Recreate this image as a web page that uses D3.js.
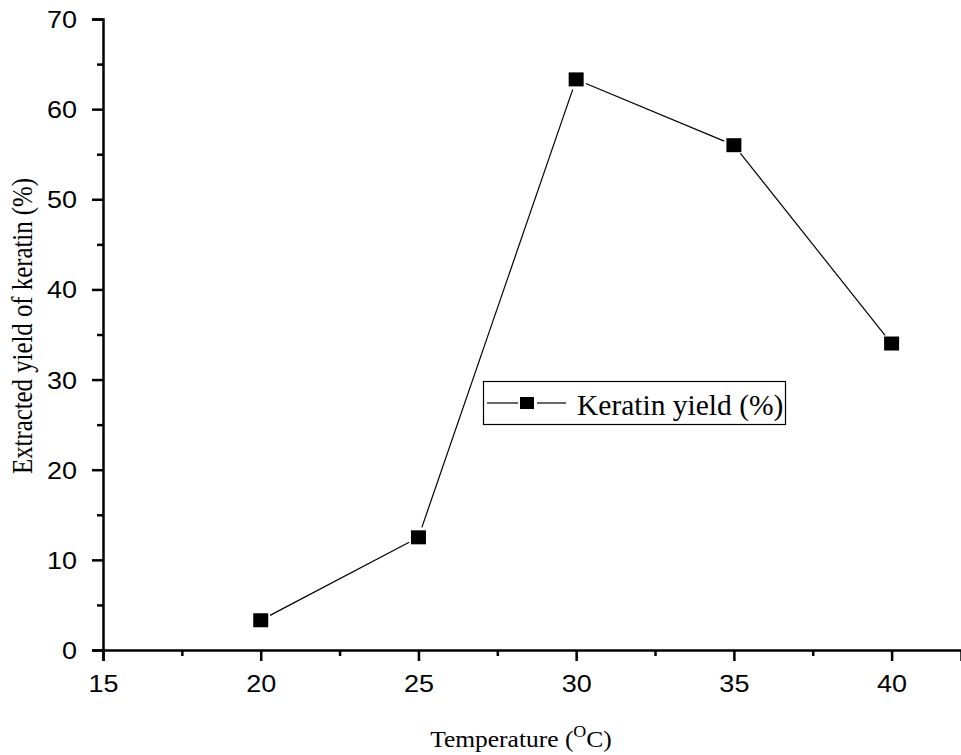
<!DOCTYPE html>
<html><head><meta charset="utf-8">
<script src="https://cdn.jsdelivr.net/npm/d3@7"></script>
<style>body{margin:0;background:#fff}svg{display:block}</style>
</head><body>
<svg id="c" width="961" height="755"></svg>
<script>
const temperatures = [20, 25, 30, 35, 40];
const keratinYield = [3.3, 12.5, 63.3, 56.0, 34.0];
const xTicks = [15, 20, 25, 30, 35, 40];
const yTicks = [0, 10, 20, 30, 40, 50, 60, 70];
const seriesName = "Keratin yield (%)";

const svg = d3.select("#c");
const x = d3.scaleLinear().domain([15, 42.2]).range([103, 961]);
const y = d3.scaleLinear().domain([0, 70]).range([650, 19]);

const xMinor = d3.range(17.5, 42, 5);
const yMinor = d3.range(5, 70, 10);
const sans = "Liberation Sans, Arial, sans-serif";
const serif = "Liberation Serif, Times New Roman, serif";

const gx = svg.append("g").attr("transform", "translate(0,650)");
gx.call(d3.axisBottom(x).tickValues(xTicks).tickSize(11).tickFormat(d3.format("d")));
const gxm = gx.append("g").call(d3.axisBottom(x).tickValues(xMinor).tickSize(6).tickFormat(""));
gxm.select(".domain").remove();
gx.selectAll(":scope > .tick text")
  .attr("y", 0).attr("dy", null)
  .attr("transform", "translate(0,42) scale(1,0.9)");

const gy = svg.append("g").attr("transform", "translate(103,0)");
gy.call(d3.axisLeft(y).tickValues(yTicks).tickSize(11).tickFormat(d3.format("d")));
const gym = gy.append("g").call(d3.axisLeft(y).tickValues(yMinor).tickSize(6).tickFormat(""));
gym.select(".domain").remove();
gy.selectAll(":scope > .tick text")
  .attr("x", 0).attr("dy", null).attr("y", 0)
  .attr("transform", "translate(-26,8.5) scale(1,0.9)");

svg.selectAll(".domain").attr("stroke", "#000").attr("stroke-width", 2.5);
svg.selectAll(".tick line").attr("stroke", "#000").attr("stroke-width", 2.5);
svg.selectAll(".tick text").attr("font-family", sans).attr("font-size", 27).attr("fill", "#000");

// line segments with gaps near markers
const pts = temperatures.map((t, i) => [x(t), y(keratinYield[i])]);
const gap = 10.5;
for (let i = 0; i < pts.length - 1; i++) {
  const [x1, y1] = pts[i], [x2, y2] = pts[i + 1];
  const dx = x2 - x1, dy = y2 - y1, L = Math.hypot(dx, dy);
  const ux = dx / L, uy = dy / L;
  svg.append("line")
    .attr("x1", x1 + ux * gap).attr("y1", y1 + uy * gap)
    .attr("x2", x2 - ux * gap).attr("y2", y2 - uy * gap)
    .attr("stroke", "#000").attr("stroke-width", 1.2);
}
const mw = 15, mh = 14;
svg.selectAll("rect.pt").data(pts).enter().append("rect")
  .attr("class", "pt")
  .attr("x", d => d[0] - mw / 2).attr("y", d => d[1] - mh / 2)
  .attr("width", mw).attr("height", mh).attr("fill", "#000");

// legend
const lg = svg.append("g");
lg.append("rect").attr("x", 483.5).attr("y", 381.5).attr("width", 302).attr("height", 43)
  .attr("fill", "#fff").attr("stroke", "#000").attr("stroke-width", 1.2);
lg.append("line").attr("x1", 487).attr("x2", 518).attr("y1", 403).attr("y2", 403).attr("stroke", "#000").attr("stroke-width", 1.2);
lg.append("line").attr("x1", 537).attr("x2", 566).attr("y1", 403).attr("y2", 403).attr("stroke", "#000").attr("stroke-width", 1.2);
lg.append("rect").attr("x", 520).attr("y", 397).attr("width", 14).attr("height", 12).attr("fill", "#000");
lg.append("text").attr("x", 577).attr("y", 415).attr("font-family", serif)
  .attr("font-size", 29.5).attr("fill", "#000").text(seriesName);

// axis titles
const xt = svg.append("text").attr("transform", "translate(521,747) scale(1,0.88)").attr("text-anchor", "middle")
  .attr("font-family", serif).attr("font-size", 25.5).attr("fill", "#000");
xt.append("tspan").text("Temperature (");
xt.append("tspan").attr("font-size", 18).attr("dy", -11).text("O");
xt.append("tspan").attr("dy", 11).text("C)");

svg.append("text").attr("transform", "translate(32,326) rotate(-90) scale(0.87,1)").attr("text-anchor", "middle")
  .attr("font-family", serif).attr("font-size", 28.5).attr("fill", "#000")
  .text("Extracted yield of keratin (%)");
</script>
</body></html>
